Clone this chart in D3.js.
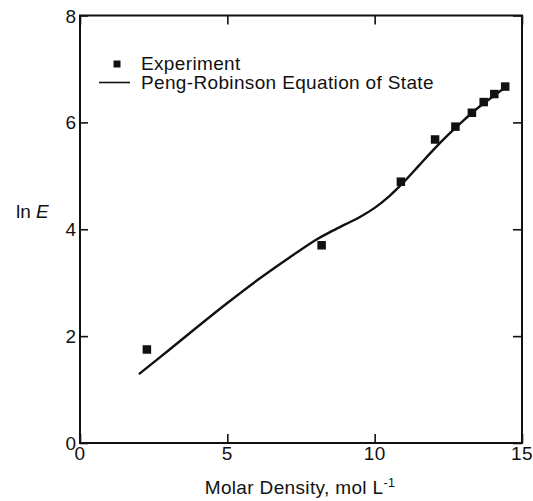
<!DOCTYPE html>
<html>
<head>
<meta charset="utf-8">
<script src="https://cdn.jsdelivr.net/npm/d3@7"></script>
<style>
  html, body { margin: 0; padding: 0; background: #fff; }
  svg { display: block; }
  text { font-family: "Liberation Sans", Arial, Helvetica, sans-serif; fill: #111; }
</style>
</head>
<body>
<div id="chart"></div>
<script>
// Experimental points
const expDensity = [2.27, 8.2, 10.89, 12.05, 12.74, 13.3, 13.7, 14.06, 14.43];
const expLnE     = [1.75, 3.70, 4.89, 5.68, 5.92, 6.18, 6.38, 6.53, 6.67];
// Peng-Robinson equation of state curve
const prDensity = [2.0, 3, 4, 5, 6, 7, 8, 8.5, 9, 9.5, 10, 10.5, 11, 11.5, 12, 12.5, 13, 13.5, 14, 14.5];
const prLnE     = [1.29, 1.73, 2.18, 2.62, 3.04, 3.43, 3.80, 3.95, 4.09, 4.23, 4.40, 4.62, 4.89, 5.19, 5.49, 5.77, 6.03, 6.27, 6.48, 6.68];
// Axis ticks
const xTicks = [0, 5, 10, 15];
const yTicks = [0, 2, 4, 6, 8];
const legendLabels = ["Experiment", "Peng-Robinson Equation of State"];

const W = 533, H = 501;
const m = { left: 80, right: 11, top: 15.5, bottom: 58 };
const iw = W - m.left - m.right, ih = H - m.top - m.bottom;
const ink = "#111";

const svg = d3.select("#chart").append("svg").attr("width", W).attr("height", H);
const g = svg.append("g").attr("transform", `translate(${m.left},${m.top})`);

const x = d3.scaleLinear().domain([0, 15]).range([0, iw]);
const y = d3.scaleLinear().domain([0, 8]).range([ih, 0]);

function styleAxis(sel) {
  sel.select(".domain").remove();
  sel.selectAll(".tick line").attr("stroke", ink).attr("stroke-width", 1.6);
}

// inward ticks on all four sides
g.append("g").attr("transform", `translate(0,${ih})`)
  .call(d3.axisBottom(x).tickValues(xTicks).tickSize(-9).tickFormat("")).call(styleAxis);
g.append("g")
  .call(d3.axisTop(x).tickValues(xTicks).tickSize(-9).tickFormat("")).call(styleAxis);
g.append("g")
  .call(d3.axisLeft(y).tickValues(yTicks).tickSize(-8).tickFormat("")).call(styleAxis);
g.append("g").attr("transform", `translate(${iw},0)`)
  .call(d3.axisRight(y).tickValues(yTicks).tickSize(-9).tickFormat("")).call(styleAxis);

// frame
g.append("rect").attr("x", 0).attr("y", 0).attr("width", iw).attr("height", ih)
  .attr("fill", "none").attr("stroke", ink).attr("stroke-width", 2);

// tick labels
g.selectAll(".xl").data(xTicks).enter().append("text")
  .attr("x", d => x(d)).attr("y", ih + 16.5).attr("text-anchor", "middle")
  .attr("font-size", 19).attr("letter-spacing", 0.4).text(d => d);
g.selectAll(".yl").data(yTicks).enter().append("text")
  .attr("x", -4).attr("y", d => y(d) + 7).attr("text-anchor", "end")
  .attr("font-size", 19).text(d => d);

// axis titles
const xt = svg.append("text").attr("x", 300).attr("y", 494).attr("text-anchor", "middle")
  .attr("font-size", 19).attr("letter-spacing", 0.35);
xt.append("tspan").text("Molar Density, mol L");
xt.append("tspan").attr("font-size", 12.5).attr("dy", -7).text("-1");

const yt = svg.append("text").attr("x", 16).attr("y", 218).attr("font-size", 19);
yt.append("tspan").text("ln ");
yt.append("tspan").attr("font-style", "italic").text("E");

// PR curve
const line = d3.line().x(d => x(d[0])).y(d => y(d[1])).curve(d3.curveCatmullRom.alpha(0.5));
g.append("path").datum(prDensity.map((d, i) => [d, prLnE[i]]))
  .attr("d", line).attr("fill", "none").attr("stroke", ink).attr("stroke-width", 2.4);

// experiment squares
const sq = 8.5;
g.selectAll(".pt").data(expDensity.map((d, i) => [d, expLnE[i]])).enter().append("rect")
  .attr("x", d => x(d[0]) - sq / 2).attr("y", d => y(d[1]) - sq / 2)
  .attr("width", sq).attr("height", sq).attr("fill", ink);

// legend
svg.append("rect").attr("x", 113.5).attr("y", 60.5).attr("width", 7).attr("height", 7).attr("fill", ink);
svg.append("text").attr("x", 141).attr("y", 69.5).attr("font-size", 19).attr("letter-spacing", 0.35).text(legendLabels[0]);
svg.append("line").attr("x1", 99).attr("x2", 130).attr("y1", 82.5).attr("y2", 82.5)
  .attr("stroke", ink).attr("stroke-width", 1.6);
svg.append("text").attr("x", 141).attr("y", 89).attr("font-size", 19).attr("letter-spacing", 0.35).text(legendLabels[1]);
</script>
</body>
</html>
